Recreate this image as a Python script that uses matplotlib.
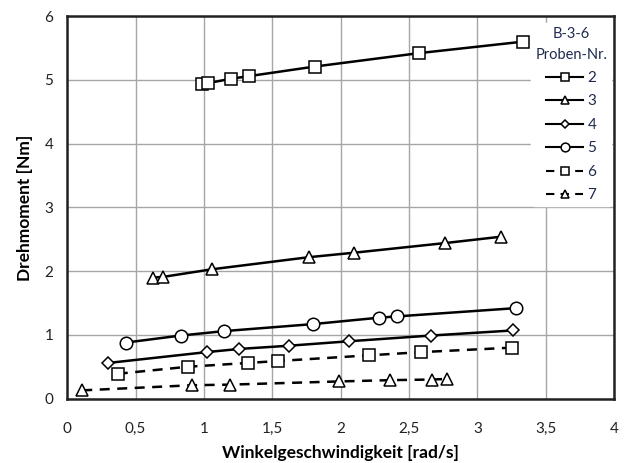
import numpy as np
import matplotlib.pyplot as plt
from matplotlib.ticker import FuncFormatter

plt.rcParams['font.family'] = ['Lato', 'DejaVu Sans']

# Proben-Nr. 2 .. 7 (B-3-6)
x2 = [0.985, 1.03, 1.20, 1.33, 1.81, 2.57, 3.33]
y2 = [4.94, 4.95, 5.02, 5.06, 5.21, 5.42, 5.60]
x3 = [0.63, 0.70, 1.06, 1.77, 2.10, 2.76, 3.17]
y3 = [1.90, 1.91, 2.03, 2.22, 2.29, 2.44, 2.54]
x4 = [0.30, 1.02, 1.26, 1.62, 2.06, 2.66, 3.26]
y4 = [0.56, 0.73, 0.78, 0.83, 0.90, 0.99, 1.07]
x5 = [0.43, 0.83, 1.15, 1.80, 2.28, 2.41, 3.28]
y5 = [0.88, 0.99, 1.06, 1.17, 1.27, 1.29, 1.42]
x6 = [0.37, 0.88, 1.32, 1.54, 2.21, 2.59, 3.25]
y6 = [0.39, 0.50, 0.56, 0.59, 0.68, 0.73, 0.80]
x7 = [0.11, 0.91, 1.19, 1.99, 2.36, 2.67, 2.78]
y7 = [0.13, 0.21, 0.22, 0.27, 0.29, 0.30, 0.31]

labels = ['2', '3', '4', '5', '6', '7']
markers = ['s', '^', 'D', 'o', 's', '^']
msizes = [8, 8, 6, 9, 8, 8]
styles = ['-', '-', '-', '-', (0, (4, 3)), (0, (4, 3))]

fig = plt.figure(figsize=(6.28, 4.63), dpi=100)
ax = fig.add_axes([0.107, 0.139, 0.871, 0.826])

series = [(x2, y2), (x3, y3), (x4, y4), (x5, y5), (x6, y6), (x7, y7)]
for (xs, ys), lab, m, ms, ls in zip(series, labels, markers, msizes, styles):
    ax.plot(xs, ys, color='black', lw=1.8, linestyle=ls, marker=m, markersize=ms,
            markerfacecolor='white', markeredgecolor='black', markeredgewidth=1.1,
            label=lab, zorder=3)

ax.set_xlim(0, 4)
ax.set_ylim(0, 6)
ax.set_xticks(np.arange(0, 4.01, 0.5))
ax.set_yticks(np.arange(0, 7, 1))
ax.xaxis.set_major_formatter(FuncFormatter(lambda v, p: ('%g' % v).replace('.', ',')))
ax.grid(True, color='#a6a6a6', lw=1.0)
ax.set_axisbelow(True)
for s in ax.spines.values():
    s.set_linewidth(1.8)
    s.set_color('#222222')
ax.tick_params(length=0, labelsize=11, colors='#222222', pad=10)
ax.tick_params(axis='x', pad=17)

ax.set_xlabel('Winkelgeschwindigkeit [rad/s]', fontsize=12.5, fontweight='bold', labelpad=6)
ax.set_ylabel('Drehmoment [Nm]', fontsize=12.5, fontweight='bold', labelpad=8)

leg = ax.legend(title='B-3-6\nProben-Nr.', loc='upper right', bbox_to_anchor=(1.0, 0.99),
                frameon=True, fontsize=11, title_fontsize=10.5, handlelength=2.4,
                labelspacing=0.62, handletextpad=0.3, borderpad=0.25, borderaxespad=0.2,
                markerscale=0.7)
leg.get_frame().set_facecolor('white')
leg.get_frame().set_edgecolor('white')
leg.get_frame().set_alpha(1)
leg.get_title().set_color('#1f2a4d')
leg.get_title().set_multialignment('center')
leg.get_title().set_linespacing(1.6)
for t in leg.get_texts():
    t.set_color('#1f2a4d')
for h in leg.get_lines():
    h.set_linewidth(1.5)

fig.savefig('out.png', dpi=100)
